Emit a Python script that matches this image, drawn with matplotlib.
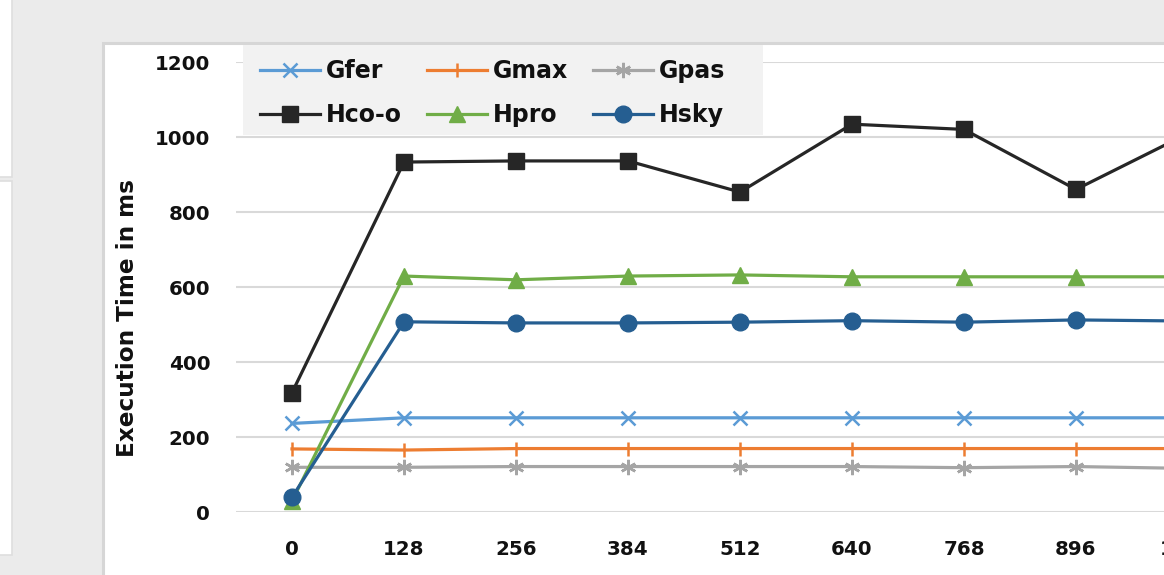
import numpy as np
import matplotlib.pyplot as plt
from matplotlib.patches import Rectangle

# thread block sizes on the x axis
block_sizes = [0, 128, 256, 384, 512, 640, 768, 896, 1024]

# execution times in ms per method
gfer = [237, 252, 252, 252, 252, 252, 252, 252, 252]
gmax = [169, 166, 170, 170, 170, 170, 170, 170, 170]
gpas = [120, 120, 122, 122, 122, 122, 119, 122, 117]
hcoo = [319, 934, 937, 937, 854, 1035, 1021, 861, 1010]
hpro = [30, 630, 620, 630, 633, 628, 628, 628, 628]
hsky = [40, 508, 505, 505, 507, 511, 507, 513, 510]

W, H = 1164, 575
fig = plt.figure(figsize=(W / 100, H / 100), dpi=100)
fig.patch.set_facecolor('#ebebeb')

font = 'DejaVu Sans'


def px_rect(x0, y0, x1, y1, zorder=-5, **kw):
    # rectangle given in pixel coords from the top-left corner
    return Rectangle((x0 / W, 1 - y1 / H), (x1 - x0) / W, (y1 - y0) / H,
                     transform=fig.transFigure, zorder=zorder, **kw)


# side panels and chart panel
fig.patches.append(px_rect(-2, -2, 12, 177, facecolor='white', edgecolor='#dedede', lw=1.2))
fig.patches.append(px_rect(-2, 181, 12, 555, facecolor='white', edgecolor='#dedede', lw=1.2))
fig.patches.append(px_rect(102.5, 42.5, W + 10, H + 10, facecolor='white',
                           edgecolor='#d6d6d6', lw=2.2))

x = np.arange(len(block_sizes))
n = len(block_sizes)
step = 112
left = 236
ax = fig.add_axes([left / W, (H - 512.3) / H, n * step / W, 450 / H])
ax.set_facecolor('none')
ax.set_zorder(2)

series = [
    ('Gfer', gfer, '#5b9bd5', 'x', 9.5, 1.8),
    ('Gmax', gmax, '#ed7d31', '|', 10, 1.8),
    ('Gpas', gpas, '#a5a5a5', (6, 2, 0), 11, 1.8),
    ('Hco-o', hcoo, '#262626', 's', 11.5, 0),
    ('Hpro', hpro, '#70ad47', '^', 12, 0),
    ('Hsky', hsky, '#255e91', 'o', 12, 0),
]
lines = {}
for name, vals, col, mk, ms, mew in series:
    ln, = ax.plot(x, vals, color=col, lw=2.3, marker=mk, markersize=ms,
                  markeredgewidth=mew if mew else 1, markeredgecolor=col,
                  markerfacecolor=col, label=name, zorder=3)
    lines[name] = ln

ax.set_xlim(-0.5, n - 0.5)
ax.set_ylim(0, 1200)
ax.set_yticks(range(0, 1201, 200))
ax.set_xticks(x)
ax.set_xticklabels([str(b) for b in block_sizes])
ax.grid(axis='y', color='#d9d9d9', lw=1.5, zorder=0)
ax.set_axisbelow(True)
for s in ax.spines.values():
    s.set_visible(False)
ax.tick_params(length=0)
ax.tick_params(axis='y', pad=18.5)
ax.tick_params(axis='x', pad=20)
for lab in ax.get_xticklabels() + ax.get_yticklabels():
    lab.set_fontfamily(font)
    lab.set_fontweight('bold')
    lab.set_fontsize(14.3)
    lab.set_color('#111111')

fig.text(127 / W, 1 - 318 / H, 'Execution Time in ms', rotation=90,
         ha='center', va='center', fontsize=16.7, fontweight='bold',
         family=font, color='#111111')

# legend background box, drawn over the grid
box = px_rect(243, 45, 763, 135, zorder=4, facecolor='#f2f2f2', edgecolor='none')
box.set_clip_on(False)
ax.add_artist(box)

# legend: matplotlib fills columns first
order = ['Gfer', 'Hco-o', 'Gmax', 'Hpro', 'Gpas', 'Hsky']
leg = ax.legend([lines[k] for k in order], order, ncol=3,
                loc='upper left', bbox_to_anchor=(260 / W, 1 - 59 / H),
                bbox_transform=fig.transFigure,
                prop={'family': font, 'weight': 'bold', 'size': 17},
                frameon=False, borderpad=0,
                handlelength=2.55, handletextpad=0.25, columnspacing=1.05,
                labelspacing=0.85, borderaxespad=0)
leg.set_zorder(5)
for t in leg.get_texts():
    t.set_color('#111111')

fig.savefig('out.png', dpi=100, facecolor=fig.get_facecolor())
